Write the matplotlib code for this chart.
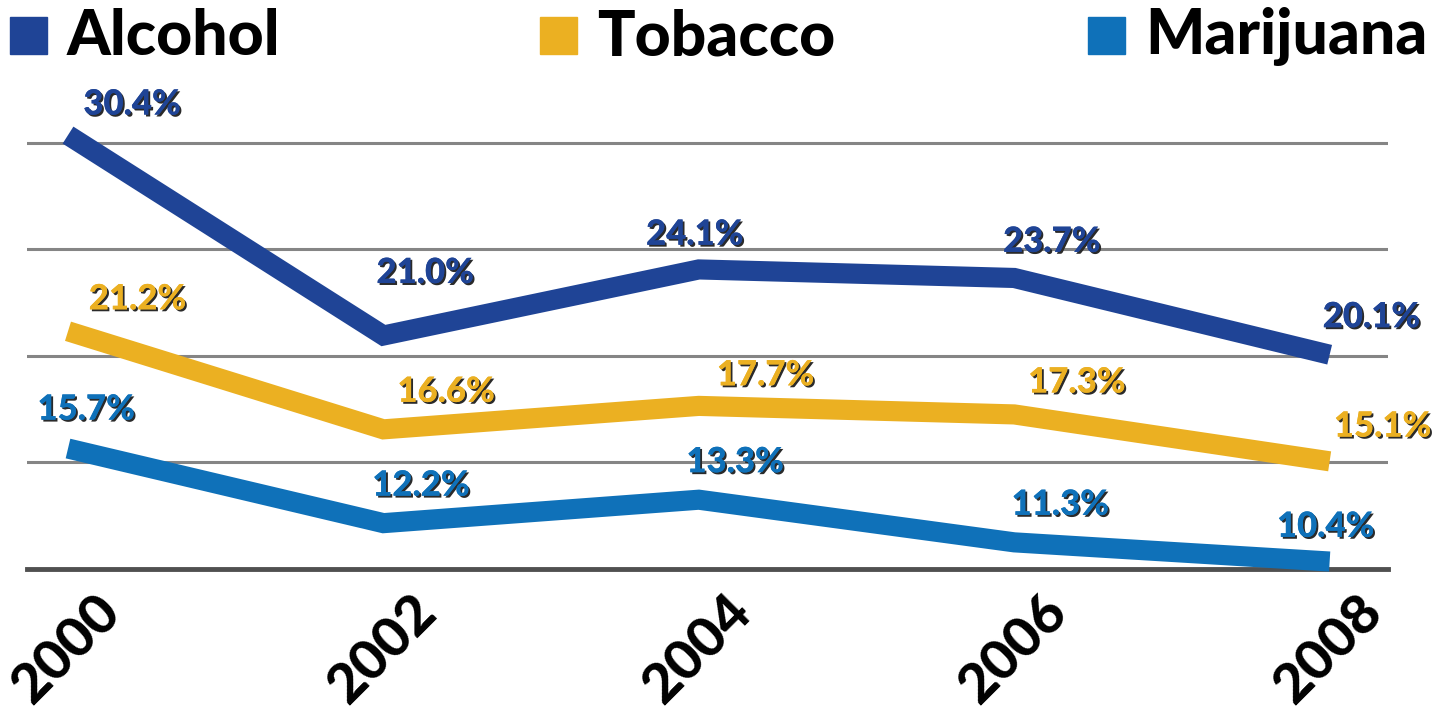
import matplotlib.pyplot as plt
import matplotlib.patheffects as pe
from matplotlib.patches import Rectangle

years = [2000, 2002, 2004, 2006, 2008]
alcohol = [30.4, 21.0, 24.1, 23.7, 20.1]
tobacco = [21.2, 16.6, 17.7, 17.3, 15.1]
marijuana = [15.7, 12.2, 13.3, 11.3, 10.4]

names = ['Alcohol', 'Tobacco', 'Marijuana']
colors = ['#1f4496', '#ebb022', '#0f71b9']

# label offsets (points) from each data point
label_off = [
    [(46, 22), (30, 45), (-3, 25), (27, 26), (30, 27)],
    [(50, 23), (45, 27), (48, 22), (45, 23), (38, 25)],
    [(13, 28), (27, 27), (26, 27), (33, 27), (-3, 25)],
]

plt.rcParams['font.family'] = ['Lato', 'DejaVu Sans']

fig = plt.figure(figsize=(14.53, 7.27), dpi=100)
ax = fig.add_axes([27 / 1453, 158 / 727, 1361 / 1453, 468 / 727])
ax.set_xlim(1999.74, 2008.37)
ax.set_ylim(10.05, 32.0)

# horizontal guide lines
for v in [15, 20, 25, 30]:
    ax.axhline(v + 0.05, color='#858585', lw=2.2, zorder=1)
ax.axhline(10.05, color='#505050', lw=3.5, zorder=1, clip_on=False)

shadow = [pe.withSimplePatchShadow(offset=(1.4, -1.4), shadow_rgbFace='#2a2a2a', alpha=1.0), pe.Normal()]

for series, col, offs in zip([alcohol, tobacco, marijuana], colors, label_off):
    ax.plot(years, series, color=col, lw=14.5, solid_capstyle='butt',
            solid_joinstyle='miter', zorder=3, clip_on=False)
    for x, y, (dx, dy) in zip(years, series, offs):
        ax.annotate(f'{y:.1f}%', (x, y), xytext=(dx, dy), textcoords='offset points',
                    ha='center', va='center', fontsize=25, fontweight='black',
                    color=col, path_effects=shadow, zorder=5, annotation_clip=False)

for s in ax.spines.values():
    s.set_visible(False)
ax.set_yticks([])
ax.set_xticks(years)
ax.set_xticklabels([])
ax.tick_params(length=0)

# year labels, rotated
for x in years:
    ax.annotate(str(x), (x, 10.05), xytext=(19, -12), textcoords='offset points',
                ha='right', va='top', rotation=45, rotation_mode='anchor',
                fontsize=40, fontweight='black', color='black', annotation_clip=False)

# legend row across the top
leg_x = [10, 540, 1088]
for nm, col, lx in zip(names, colors, leg_x):
    fig.patches.append(Rectangle((lx / 1453, (727 - 54) / 727), 37 / 1453, 37 / 727,
                                 transform=fig.transFigure, color=col))
    fig.text((lx + 57) / 1453, (727 - 37) / 727, nm, ha='left', va='center',
             fontsize=45, fontweight='black', color='black')

fig.savefig('out.png', dpi=100)
